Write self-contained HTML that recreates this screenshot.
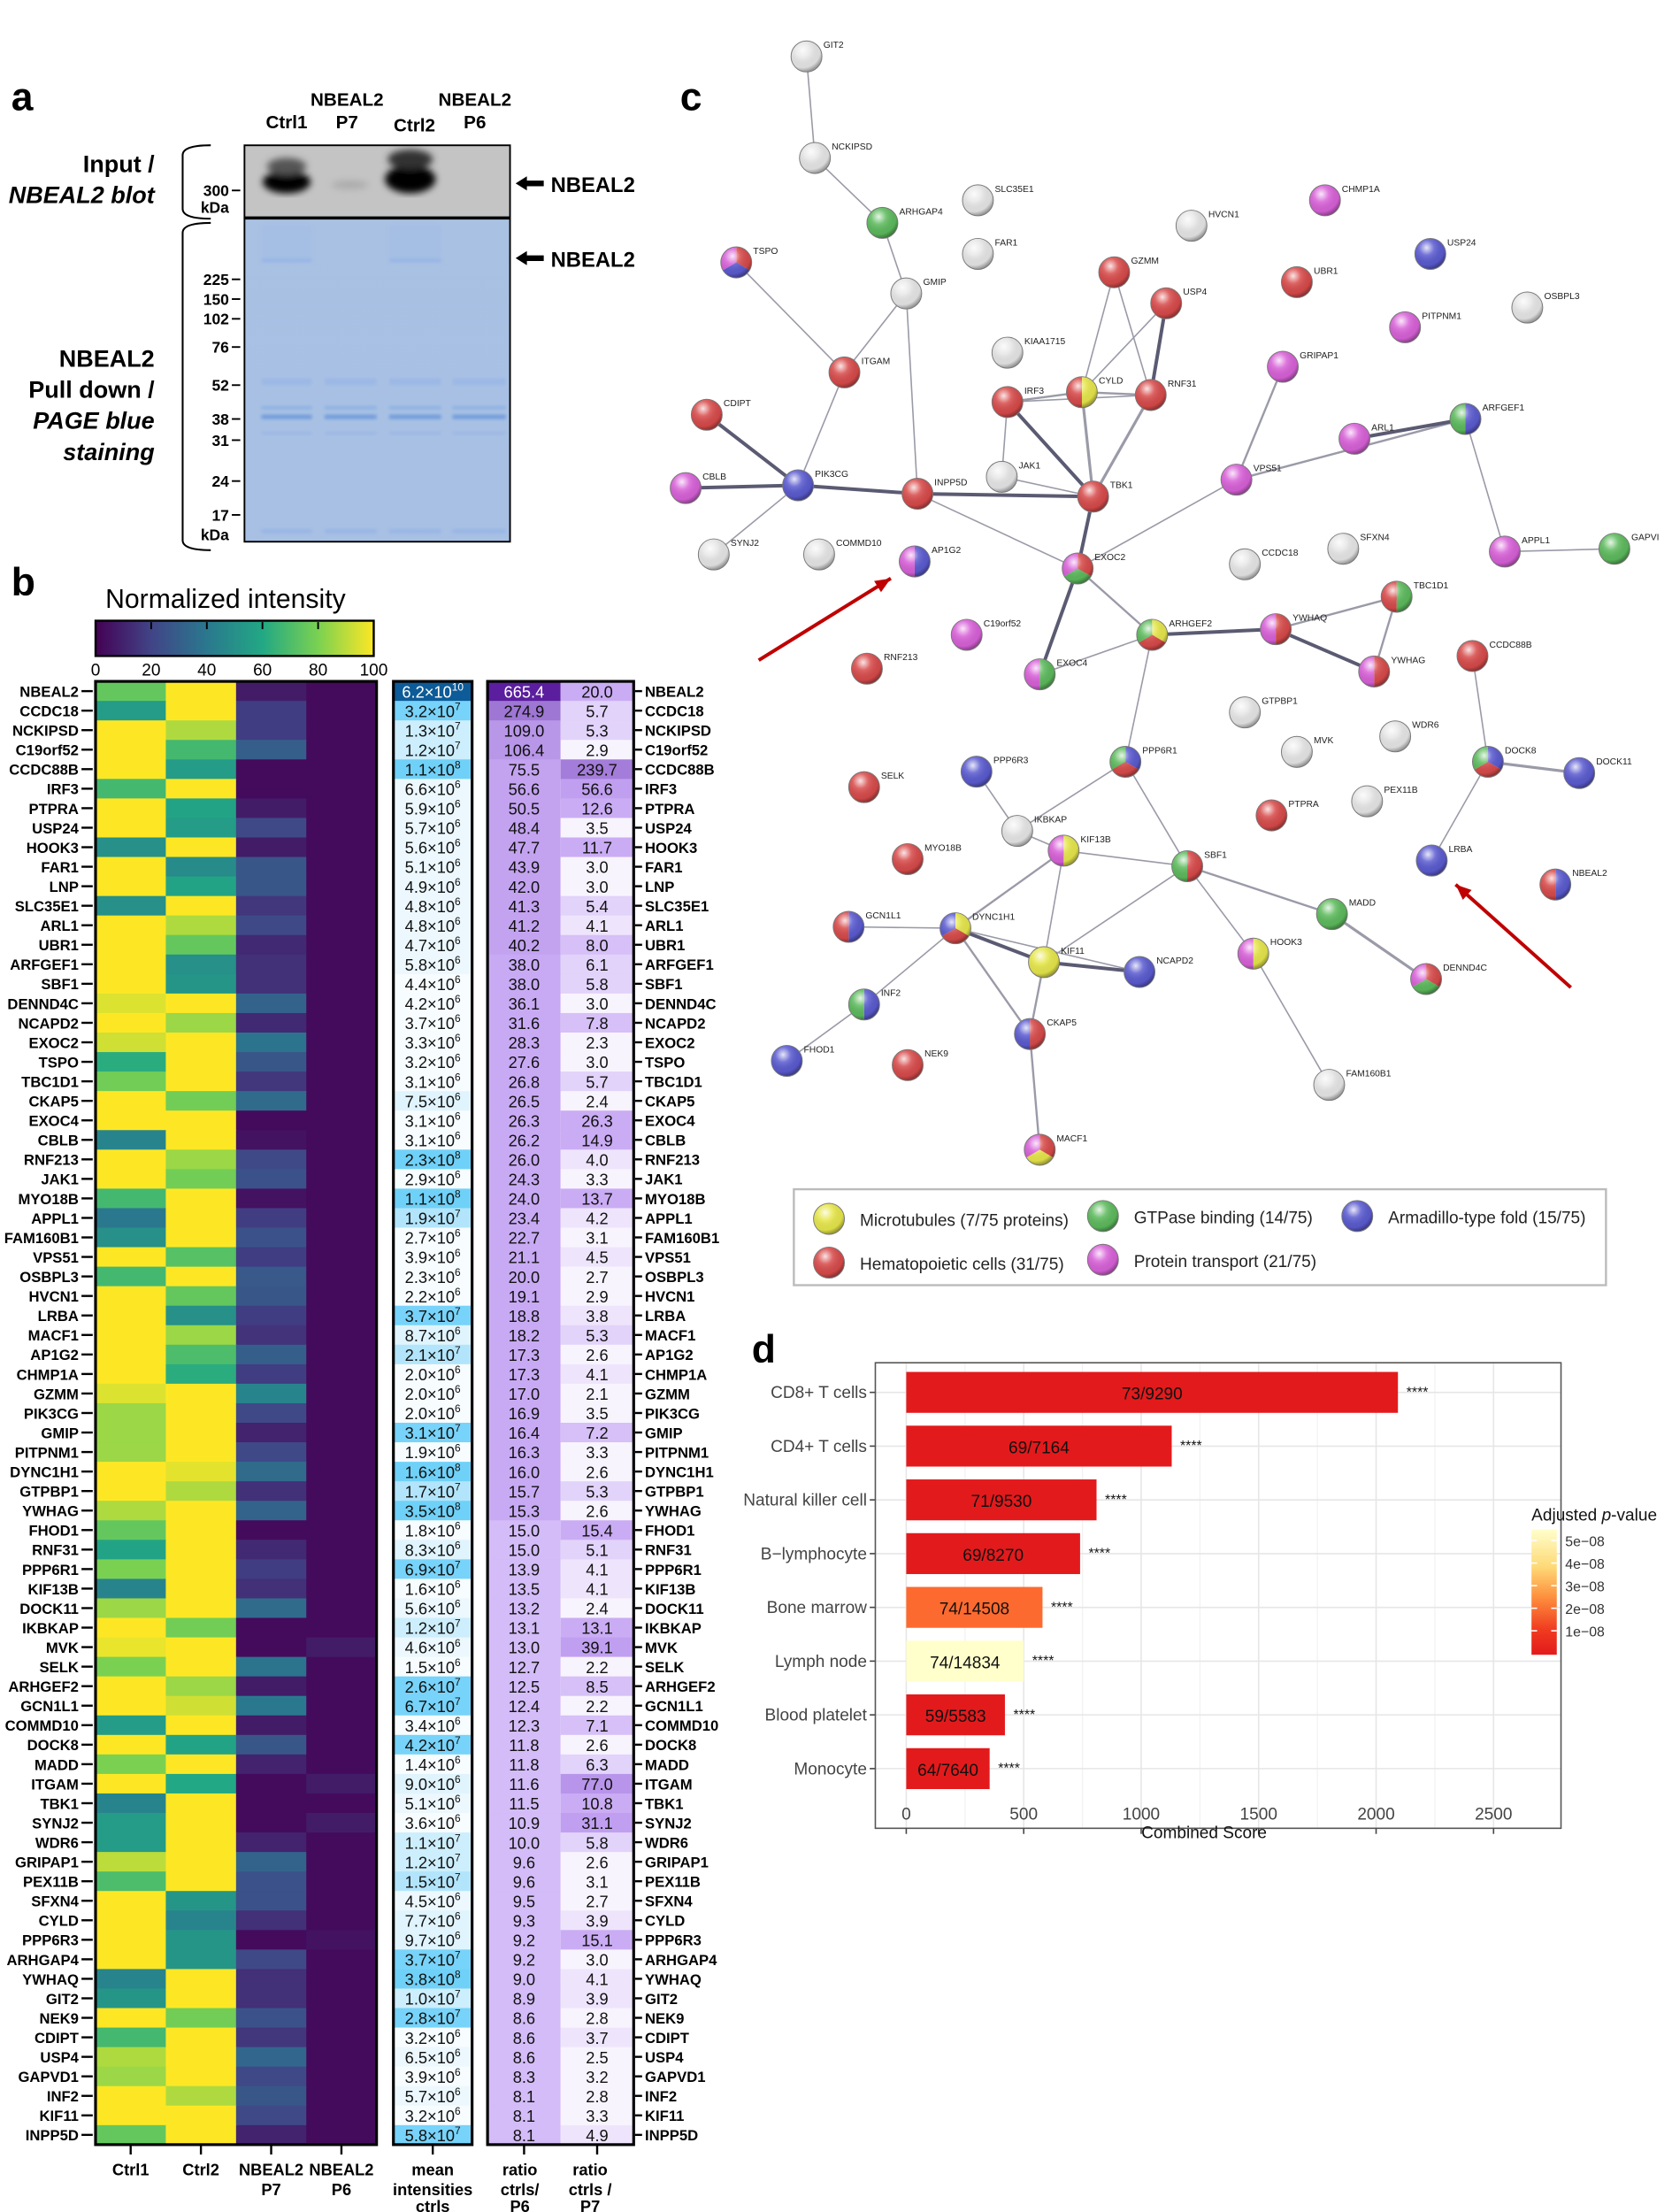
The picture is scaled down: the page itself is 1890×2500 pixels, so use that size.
<!DOCTYPE html>
<html><head><meta charset="utf-8">
<style>
html,body{margin:0;padding:0;background:#fff;}
svg{display:block;}
text{font-family:"Liberation Sans",Arial,sans-serif;}
</style></head>
<body>
<svg id="s" width="1890" height="2500" viewBox="0 0 1190 1568" preserveAspectRatio="none" xmlns="http://www.w3.org/2000/svg">
<defs>
<linearGradient id="vir" x1="0" x2="1" y1="0" y2="0">
<stop offset="0" stop-color="#440154"/><stop offset="0.2" stop-color="#414487"/><stop offset="0.4" stop-color="#2a788e"/><stop offset="0.6" stop-color="#22a884"/><stop offset="0.8" stop-color="#7ad151"/><stop offset="1" stop-color="#fde725"/>
</linearGradient>
<linearGradient id="pv" x1="0" x2="0" y1="0" y2="1">
<stop offset="0" stop-color="#ffffcc"/><stop offset="0.3" stop-color="#fed976"/><stop offset="0.55" stop-color="#fd8d3c"/><stop offset="0.8" stop-color="#f03b20"/><stop offset="1" stop-color="#e31a1c"/>
</linearGradient>
<linearGradient id="gel" x1="0" x2="0" y1="0" y2="1">
<stop offset="0" stop-color="#a9c1e3"/><stop offset="1" stop-color="#a7c0e4"/>
</linearGradient>
<radialGradient id="hl" cx="0.38" cy="0.3" r="0.7">
<stop offset="0" stop-color="#fff" stop-opacity="0.85"/><stop offset="0.35" stop-color="#fff" stop-opacity="0.15"/><stop offset="0.8" stop-color="#000" stop-opacity="0.05"/><stop offset="1" stop-color="#000" stop-opacity="0.35"/>
</radialGradient>
<filter id="blur"><feGaussianBlur stdDeviation="2.5"/></filter>
<filter id="blur1"><feGaussianBlur stdDeviation="1.2"/></filter>
</defs>
<g id="root"></g>
</svg>
<script>
let out='';
function T(x,y,s,o){o=o||{};out+=`<text x="${x}" y="${y}" font-size="${o.fs||11}" ${o.b?'font-weight="bold"':''} ${o.i?'font-style="italic"':''} text-anchor="${o.a||'start'}" fill="${o.c||'#000'}">${s}</text>`;}
function R(x,y,w,h,f,extra){out+=`<rect x="${x}" y="${y}" width="${w}" height="${h}" fill="${f}" ${extra||''}/>`;}
function L(x1,y1,x2,y2,c,w){out+=`<line x1="${x1}" y1="${y1}" x2="${x2}" y2="${y2}" stroke="${c||'#000'}" stroke-width="${w||1}"/>`;}

/* ---------- Panel a ---------- */
T(8,78,'a',{fs:28,b:1});
T(247,75,'NBEAL2',{fs:13,b:1,a:'middle'});T(338,75,'NBEAL2',{fs:13,b:1,a:'middle'});
T(204,91,'Ctrl1',{fs:13,b:1,a:'middle'});T(247,91,'P7',{fs:13,b:1,a:'middle'});
T(295,93,'Ctrl2',{fs:13,b:1,a:'middle'});T(338,91,'P6',{fs:13,b:1,a:'middle'});
R(174,103,189,51,'#c4c4c4');
out+=`<g filter="url(#blur)"><ellipse cx="204" cy="129" rx="17" ry="8" fill="#000"/><ellipse cx="204" cy="118" rx="14" ry="6" fill="#555"/><ellipse cx="292" cy="127" rx="18" ry="10" fill="#000"/><ellipse cx="292" cy="113" rx="16" ry="7" fill="#333"/><ellipse cx="249" cy="131" rx="13" ry="3" fill="#aaa"/></g>`;
R(174,103,189,51,'none','stroke="#000" stroke-width="1.2"');
R(174,155,189,229,'url(#gel)');
out+=`<g filter="url(#blur1)">`;
const lanes=[[186,222],[231,268],[277,314],[322,360]];
lanes.forEach((l,i)=>{
 R(l[0],294,l[1]-l[0],3,'#6f9bdb');
 R(l[0],288,l[1]-l[0],2,'#8aaee2');
 R(l[0],268,l[1]-l[0],5,'#9cb8e4');
 R(l[0],306,l[1]-l[0],2,'#9ab6e4');
 R(l[0],375,l[1]-l[0],3,'#98b5e4');
 if(i==0||i==2){R(l[0],183,l[1]-l[0],3,'#98b5e5');R(l[0],160,l[1]-l[0],22,'#a5bee3');}
});
out+=`</g>`;
R(174,155,189,229,'none','stroke="#000" stroke-width="1.2"');
T(110,122,'Input /',{fs:17,b:1,a:'end'});T(110,144,'NBEAL2 blot',{fs:17,b:1,i:1,a:'end'});
T(110,260,'NBEAL2',{fs:17,b:1,a:'end'});T(110,282,'Pull down /',{fs:17,b:1,a:'end'});
T(110,304,'PAGE blue',{fs:17,b:1,i:1,a:'end'});T(110,326,'staining',{fs:17,b:1,i:1,a:'end'});
out+=`<path d="M150,103 Q130,103 130,110 L130,148 Q130,155 150,155" fill="none" stroke="#000" stroke-width="1.3"/>`;
out+=`<path d="M150,158 Q130,158 130,165 L130,383 Q130,390 150,390" fill="none" stroke="#000" stroke-width="1.3"/>`;
[[300,135],[225,198],[150,212],[102,226],[76,246],[52,273],[38,297],[31,312],[24,341],[17,365]].forEach(m=>{T(163,m[1]+4,m[0],{fs:11,b:1,a:'end'});L(165,m[1],171,m[1],'#000',1.2);});
T(163,151,'kDa',{fs:11,b:1,a:'end'});T(163,383,'kDa',{fs:11,b:1,a:'end'});
[130,183].forEach(y=>{out+=`<path d="M367,${y} l8,-5 v3 h12 v4 h-12 v3 z" fill="#000"/>`;T(392,y+6,'NBEAL2',{fs:15,b:1});});

/* ---------- Panel b ---------- */
T(8,422,'b',{fs:28,b:1});
T(75,431,'Normalized intensity',{fs:19});
R(68,440,198,25,'url(#vir)','stroke="#000" stroke-width="1.5"');
[0,20,40,60,80,100].forEach((v,i)=>{const x=68+i*39.6;if(i>0&&i<5)L(x,441,x,446,'#000',1.2);T(x,479,v,{fs:12,a:'middle'});});
const D=[
['NBEAL2',75,100,8,3,'6.2',10,'665.4','20.0'],['CCDC18',55,100,18,3,'3.2',7,'274.9','5.7'],['NCKIPSD',100,88,18,3,'1.3',7,'109.0','5.3'],['C19orf52',100,68,30,3,'1.2',7,'106.4','2.9'],['CCDC88B',100,55,3,3,'1.1',8,'75.5','239.7'],['IRF3',68,100,3,3,'6.6',6,'56.6','56.6'],['PTPRA',100,58,8,3,'5.9',6,'50.5','12.6'],['USP24',100,55,22,3,'5.7',6,'48.4','3.5'],['HOOK3',50,100,8,3,'5.6',6,'47.7','11.7'],['FAR1',100,48,27,3,'5.1',6,'43.9','3.0'],['LNP',100,58,27,3,'4.9',6,'42.0','3.0'],['SLC35E1',50,100,16,3,'4.8',6,'41.3','5.4'],['ARL1',100,88,22,3,'4.8',6,'41.2','4.1'],['UBR1',100,75,12,3,'4.7',6,'40.2','8.0'],['ARFGEF1',100,50,14,3,'5.8',6,'38.0','6.1'],['SBF1',100,52,14,3,'4.4',6,'38.0','5.8'],['DENND4C',95,100,32,3,'4.2',6,'36.1','3.0'],['NCAPD2',100,85,12,3,'3.7',6,'31.6','7.8'],['EXOC2',93,100,38,3,'3.3',6,'28.3','2.3'],['TSPO',62,100,27,3,'3.2',6,'27.6','3.0'],['TBC1D1',78,100,16,3,'3.1',6,'26.8','5.7'],['CKAP5',100,78,35,3,'7.5',6,'26.5','2.4'],['EXOC4',100,100,3,3,'3.1',6,'26.3','26.3'],['CBLB',45,100,5,3,'3.1',6,'26.2','14.9'],['RNF213',100,85,22,3,'2.3',8,'26.0','4.0'],['JAK1',100,78,25,3,'2.9',6,'24.3','3.3'],['MYO18B',68,100,5,3,'1.1',8,'24.0','13.7'],['APPL1',40,100,18,3,'1.9',7,'23.4','4.2'],['FAM160B1',50,100,25,3,'2.7',6,'22.7','3.1'],['VPS51',100,72,18,3,'3.9',6,'21.1','4.5'],['OSBPL3',68,100,28,3,'2.3',6,'20.0','2.7'],['HVCN1',100,75,27,3,'2.2',6,'19.1','2.9'],['LRBA',100,50,18,3,'3.7',7,'18.8','3.8'],['MACF1',100,85,15,3,'8.7',6,'18.2','5.3'],['AP1G2',100,70,30,3,'2.1',7,'17.3','2.6'],['CHMP1A',100,62,18,3,'2.0',6,'17.3','4.1'],['GZMM',95,100,45,3,'2.0',6,'17.0','2.1'],['PIK3CG',85,100,22,3,'2.0',6,'16.9','3.5'],['GMIP',85,100,10,3,'3.1',7,'16.4','7.2'],['PITPNM1',85,100,22,3,'1.9',6,'16.3','3.3'],['DYNC1H1',100,96,35,3,'1.6',8,'16.0','2.6'],['GTPBP1',100,88,14,3,'1.7',7,'15.7','5.3'],['YWHAG',88,100,32,3,'3.5',8,'15.3','2.6'],['FHOD1',75,100,3,3,'1.8',6,'15.0','15.4'],['RNF31',58,100,12,3,'8.3',6,'15.0','5.1'],['PPP6R1',80,100,18,3,'6.9',7,'13.9','4.1'],['KIF13B',45,100,14,3,'1.6',6,'13.5','4.1'],['DOCK11',85,100,35,3,'5.6',6,'13.2','2.4'],['IKBKAP',100,78,3,3,'1.2',7,'13.1','13.1'],['MVK',97,100,3,8,'4.6',6,'13.0','39.1'],['SELK',80,100,38,3,'1.5',6,'12.7','2.2'],['ARHGEF2',100,85,8,3,'2.6',7,'12.5','8.5'],['GCN1L1',100,93,40,3,'6.7',7,'12.4','2.2'],['COMMD10',55,100,8,3,'3.4',6,'12.3','7.1'],['DOCK8',100,58,27,3,'4.2',7,'11.8','2.6'],['MADD',80,100,10,3,'1.4',6,'11.8','6.3'],['ITGAM',100,60,3,8,'9.0',6,'11.6','77.0'],['TBK1',45,100,3,3,'5.1',6,'11.5','10.8'],['SYNJ2',55,100,3,8,'3.6',6,'10.9','31.1'],['WDR6',55,100,10,3,'1.1',7,'10.0','5.8'],['GRIPAP1',90,100,32,3,'1.2',7,'9.6','2.6'],['PEX11B',70,100,25,3,'1.5',7,'9.6','3.1'],['SFXN4',100,52,25,3,'4.5',6,'9.5','2.7'],['CYLD',100,45,14,3,'7.7',6,'9.3','3.9'],['PPP6R3',100,52,3,5,'9.7',6,'9.2','15.1'],['ARHGAP4',100,52,22,3,'3.7',7,'9.2','3.0'],['YWHAQ',45,100,14,3,'3.8',8,'9.0','4.1'],['GIT2',52,100,14,3,'1.0',7,'8.9','3.9'],['NEK9',100,78,25,3,'2.8',7,'8.6','2.8'],['CDIPT',68,100,16,3,'3.2',6,'8.6','3.7'],['USP4',88,100,33,3,'6.5',6,'8.6','2.5'],['GAPVD1',85,100,22,3,'3.9',6,'8.3','3.2'],['INF2',100,88,27,3,'5.7',6,'8.1','2.8'],['KIF11',100,100,22,3,'3.2',6,'8.1','3.3'],['INPP5D',75,100,10,3,'5.8',7,'8.1','4.9']];
const VS=[[0,[68,1,84]],[20,[65,68,135]],[40,[42,120,142]],[60,[34,168,132]],[80,[122,209,81]],[100,[253,231,37]]];
function vir(v){v=Math.max(0,Math.min(100,v));for(let i=0;i<5;i++){if(v<=VS[i+1][0]){const t=(v-VS[i][0])/20;const a=VS[i][1],b=VS[i+1][1];return `rgb(${a.map((c,k)=>Math.round(c+(b[k]-c)*t)).join(',')})`;}}}
function meanCol(m,e){m=parseFloat(m);if(e>=10)return '#0d5b98';if(e>=8)return '#6fd1f8';if(e==7){if(m>=2.5)return '#77d3f9';if(m>=1.5)return '#b2e5fb';return '#cdeefc';}if(m>=7)return '#e0f4fd';if(m>=4.5)return '#ecf8fe';return '#f7fcff';}
function r6Col(v){v=parseFloat(v);if(v>500)return '#5b1e9e';if(v>200)return '#9e76d4';if(v>100)return '#b896e8';if(v>40)return '#c3a3f0';if(v>15)return '#c8aaf4';return '#d3bcf7';}
function r7Col(v){v=parseFloat(v);if(v>200)return '#a47cd9';if(v>60)return '#b895ea';if(v>30)return '#c09ff0';if(v>10)return '#caacf4';if(v>7)return '#d6c0f7';if(v>5)return '#e2d3fa';if(v>3.5)return '#eee5fc';return '#f8f4fe';}
const top0=483,rh=13.83;
D.forEach((d,i)=>{
 const y=top0+i*rh, cy=y+rh/2;
 [1,2,3,4].forEach(k=>R(68+(k-1)*50,y,50.5,rh+0.6,vir(d[k])));
 R(280,y,56,rh+0.6,meanCol(d[5],d[6]));
 R(347,y,52,rh+0.6,r6Col(d[7]));R(399,y,52,rh+0.6,r7Col(d[8]));
 T(56,cy+4,d[0],{fs:10.5,b:1,a:'end'});L(58,cy,66,cy,'#000',1.5);
 T(459,cy+4,d[0],{fs:10.5,b:1});L(452,cy,457,cy,'#000',1.5);
 const wc=d[6]>=10?'#fff':'#111';
 out+=`<text x="308" y="${cy+4.5}" font-size="11.5" text-anchor="middle" fill="${wc}">${d[5]}×10<tspan font-size="7.5" dy="-5">${d[6]}</tspan></text>`;
 T(373,cy+4.5,d[7],{fs:11.5,a:'middle',c:parseFloat(d[7])>500?'#fff':'#111'});
 T(425,cy+4.5,d[8],{fs:11.5,a:'middle',c:'#111'});
});
R(68,top0,200,75*rh,'none','stroke="#000" stroke-width="2"');
R(280,top0,56,75*rh,'none','stroke="#000" stroke-width="2"');
R(347,top0,104,75*rh,'none','stroke="#000" stroke-width="2"');
const yb=top0+75*rh;
[93,143,193,243,308,373,425].forEach(x=>L(x,yb,x,yb+7,'#000',1.5));
T(93,1542,'Ctrl1',{fs:11.5,b:1,a:'middle'});T(143,1542,'Ctrl2',{fs:11.5,b:1,a:'middle'});
T(193,1542,'NBEAL2',{fs:11.5,b:1,a:'middle'});T(193,1556,'P7',{fs:11.5,b:1,a:'middle'});
T(243,1542,'NBEAL2',{fs:11.5,b:1,a:'middle'});T(243,1556,'P6',{fs:11.5,b:1,a:'middle'});
T(308,1542,'mean',{fs:11.5,b:1,a:'middle'});T(308,1556,'intensities',{fs:11.5,b:1,a:'middle'});T(308,1568,'ctrls',{fs:11.5,b:1,a:'middle'});
T(370,1542,'ratio',{fs:11.5,b:1,a:'middle'});T(370,1556,'ctrls/',{fs:11.5,b:1,a:'middle'});T(370,1568,'P6',{fs:11.5,b:1,a:'middle'});
T(420,1542,'ratio',{fs:11.5,b:1,a:'middle'});T(420,1556,'ctrls /',{fs:11.5,b:1,a:'middle'});T(420,1568,'P7',{fs:11.5,b:1,a:'middle'});

/* ---------- Panel c ---------- */
T(484,78,'c',{fs:28,b:1});
const C={r:'#d84a4a',g:'#5cba5c',b:'#5a5ad0',y:'#e6e64a',p:'#d860d8',w:'#e6e6e6'};
const N={GIT2:[574,40,'w'],NCKIPSD:[580,112,'w'],ARHGAP4:[628,158,'g'],SLC35E1:[696,142,'w'],FAR1:[696,180,'w'],HVCN1:[848,160,'w'],CHMP1A:[943,142,'p'],USP24:[1018,180,'b'],TSPO:[524,186,'rbp'],GMIP:[645,208,'w'],GZMM:[793,193,'r'],USP4:[830,215,'r'],UBR1:[923,200,'r'],OSBPL3:[1087,218,'w'],PITPNM1:[1000,232,'p'],KIAA1715:[717,250,'w'],GRIPAP1:[913,260,'p'],ITGAM:[601,264,'r'],CYLD:[770,278,'yr'],RNF31:[819,280,'r'],IRF3:[717,285,'r'],CDIPT:[503,294,'r'],ARFGEF1:[1043,297,'bg'],ARL1:[964,311,'p'],JAK1:[713,338,'w'],PIK3CG:[568,344,'b'],CBLB:[488,346,'p'],INPP5D:[653,350,'r'],TBK1:[778,352,'r'],VPS51:[880,340,'p'],SYNJ2:[508,393,'w'],COMMD10:[583,393,'w'],AP1G2:[651,398,'bp'],CCDC18:[886,400,'w'],SFXN4:[956,389,'w'],APPL1:[1071,391,'p'],GAPVI:[1149,389,'g'],EXOC2:[767,403,'rgp'],TBC1D1:[994,423,'gr'],C19orf52:[688,450,'p'],CCDC88B:[1048,465,'r'],ARHGEF2:[820,450,'yrg'],YWHAQ:[908,446,'rp'],RNF213:[617,474,'r'],EXOC4:[740,478,'gp'],YWHAG:[978,476,'rp'],GTPBP1:[886,505,'w'],WDR6:[993,522,'w'],MVK:[923,533,'w'],DOCK8:[1059,540,'brg'],DOCK11:[1124,548,'b'],PPP6R3:[695,547,'b'],PPP6R1:[801,540,'brg'],SELK:[615,558,'r'],PEX11B:[973,568,'w'],PTPRA:[905,578,'r'],IKBKAP:[724,589,'w'],KIF13B:[757,603,'yp'],MYO18B:[646,609,'r'],SBF1:[845,614,'rg'],LRBA:[1019,610,'b'],NBEAL2:[1107,627,'br'],GCN1L1:[604,657,'br'],DYNC1H1:[680,658,'yrb'],MADD:[948,648,'g'],KIF11:[743,682,'y'],HOOK3:[892,676,'yp'],NCAPD2:[811,689,'b'],DENND4C:[1015,694,'rgp'],INF2:[615,712,'bg'],FHOD1:[560,752,'b'],CKAP5:[733,733,'rb'],NEK9:[646,755,'r'],FAM160B1:[946,769,'w'],MACF1:[740,815,'ryp']};
const E=[['GIT2','NCKIPSD',1],['NCKIPSD','ARHGAP4',1],['ARHGAP4','GMIP',1],['GMIP','ITGAM',1],['GMIP','INPP5D',1],['TSPO','ITGAM',1],['ITGAM','PIK3CG',1],['CDIPT','PIK3CG',2.5],['CBLB','PIK3CG',2.5],['PIK3CG','INPP5D',2.5],['PIK3CG','SYNJ2',1],['INPP5D','TBK1',2.5],['INPP5D','EXOC2',1],['IRF3','TBK1',2.5],['IRF3','CYLD',1.5],['IRF3','JAK1',1],['IRF3','RNF31',1],['GZMM','CYLD',1],['GZMM','RNF31',1],['USP4','RNF31',2.5],['USP4','CYLD',1],['CYLD','RNF31',1.5],['CYLD','TBK1',2],['RNF31','TBK1',2],['TBK1','EXOC2',2.5],['JAK1','TBK1',1],['EXOC2','EXOC4',2.5],['EXOC2','ARHGEF2',1.5],['EXOC2','VPS51',1],['VPS51','ARFGEF1',1.5],['ARL1','ARFGEF1',2.5],['ARFGEF1','APPL1',1],['APPL1','GAPVI',1],['GRIPAP1','VPS51',1.5],['ARHGEF2','YWHAQ',2.5],['YWHAQ','TBC1D1',1.5],['YWHAQ','YWHAG',2.5],['TBC1D1','YWHAG',1.5],['ARHGEF2','EXOC4',1],['ARHGEF2','PPP6R1',1],['CCDC88B','DOCK8',1],['DOCK8','DOCK11',2],['DOCK8','LRBA',1],['PPP6R1','IKBKAP',1],['PPP6R1','SBF1',1],['PPP6R3','IKBKAP',1],['IKBKAP','KIF13B',1],['KIF13B','DYNC1H1',1.5],['KIF13B','KIF11',1],['SBF1','KIF13B',1],['SBF1','MADD',1.5],['SBF1','HOOK3',1],['SBF1','KIF11',1],['MADD','DENND4C',2],['DYNC1H1','GCN1L1',1],['DYNC1H1','KIF11',2.5],['DYNC1H1','INF2',1],['DYNC1H1','CKAP5',1.5],['DYNC1H1','NCAPD2',1],['KIF11','NCAPD2',2.5],['KIF11','CKAP5',1.5],['CKAP5','MACF1',1.5],['HOOK3','FAM160B1',1],['INF2','FHOD1',1]];
E.forEach(e=>{const a=N[e[0]],b=N[e[1]];L(a[0],a[1],b[0],b[1],e[2]>2?'#5a5a72':'#9a9aa8',e[2]);});
const rr=11;
function node(x,y,cs){
 const n=cs.length;
 if(n==1){out+=`<circle cx="${x}" cy="${y}" r="${rr}" fill="${C[cs]}"/>`;}
 else{for(let i=0;i<n;i++){const a0=-Math.PI/2+i*2*Math.PI/n,a1=a0+2*Math.PI/n;
  out+=`<path d="M${x},${y} L${x+rr*Math.cos(a0)},${y+rr*Math.sin(a0)} A${rr},${rr} 0 0 1 ${x+rr*Math.cos(a1)},${y+rr*Math.sin(a1)} Z" fill="${C[cs[i]]}"/>`;}}
 out+=`<circle cx="${x}" cy="${y}" r="${rr}" fill="url(#hl)" stroke="#777" stroke-width="0.6"/>`;
}
for(const k in N){const n=N[k];node(n[0],n[1],n[2]);T(n[0]+12,n[1]-6,k,{fs:6.5,c:'#222'});}
function arrow(x1,y1,x2,y2){L(x1,y1,x2,y2,'#c00000',2.5);const a=Math.atan2(y2-y1,x2-x1),h=12;
 out+=`<path d="M${x2},${y2} L${x2-h*Math.cos(a-0.4)},${y2-h*Math.sin(a-0.4)} L${x2-h*Math.cos(a+0.4)},${y2-h*Math.sin(a+0.4)} Z" fill="#c00000"/>`;}
arrow(540,468,634,410);arrow(1118,700,1036,627);
R(565,843,578,68,'#fff','stroke="#bbb" stroke-width="1.5"');
[[590,864,'y','Microtubules (7/75 proteins)'],[785,862,'g','GTPase binding (14/75)'],[966,862,'b','Armadillo-type fold (15/75)'],[590,895,'r','Hematopoietic cells (31/75)'],[785,893,'p','Protein transport (21/75)']].forEach(l=>{node(l[0],l[1],l[2]);T(l[0]+22,l[1]+5,l[3],{fs:12,c:'#222'});});

/* ---------- Panel d ---------- */
T(535,966,'d',{fs:28,b:1});
const px0=645,pk=(1063-645)/2500;
R(623,966,488,330,'#fff');
[250,750,1250,1750,2250].forEach(v=>L(px0+v*pk,966,px0+v*pk,1296,'#f2f2f2',0.8));
[0,500,1000,1500,2000,2500].forEach(v=>L(px0+v*pk,966,px0+v*pk,1296,'#e6e6e6',1));
const B=[['CD8+ T cells',2093,'#e31a1c','73/9290'],['CD4+ T cells',1130,'#e31a1c','69/7164'],['Natural killer cell',810,'#e31a1c','71/9530'],['B−lymphocyte',740,'#e31a1c','69/8270'],['Bone marrow',580,'#fd6a2f','74/14508'],['Lymph node',500,'#ffffcc','74/14834'],['Blood platelet',420,'#e31a1c','59/5583'],['Monocyte',355,'#e31a1c','64/7640']];
B.forEach((b,i)=>{const cy=987+i*38.1;L(623,cy,1111,cy,'#e6e6e6',1);});
B.forEach((b,i)=>{const cy=987+i*38.1,w=b[1]*pk;
 R(px0,cy-14.5,w,29,b[2]);
 T(px0+w/2,cy+5,b[3],{fs:12,a:'middle',c:'#111'});
 T(px0+w+6,cy+3,'****',{fs:10,c:'#111'});
 T(617,cy+4,b[0],{fs:12,a:'end',c:'#444'});L(619,cy,623,cy,'#444',1);
});
R(623,966,488,330,'none','stroke="#555" stroke-width="1"');
[0,500,1000,1500,2000,2500].forEach(v=>{const x=px0+v*pk;L(x,1296,x,1300,'#444',1);out+=`<text x="${x}" y="1290" font-size="12" text-anchor="middle" fill="#444">${v}</text>`;});
T(857,1303,'Combined Score',{fs:12,a:'middle',c:'#111'});
out+=`<text x="1090" y="1078" font-size="12" fill="#111">Adjusted <tspan font-style="italic">p</tspan>-value</text>`;
R(1090,1084,18,89,'url(#pv)');
[['5e−08',1092],['4e−08',1108],['3e−08',1124],['2e−08',1140],['1e−08',1156]].forEach(t=>{L(1090,t[1],1094,t[1],'#fff',1);L(1104,t[1],1108,t[1],'#fff',1);T(1114,t[1]+4,t[0],{fs:10,c:'#333'});});

document.getElementById('root').innerHTML=out;
</script>
</body></html>
